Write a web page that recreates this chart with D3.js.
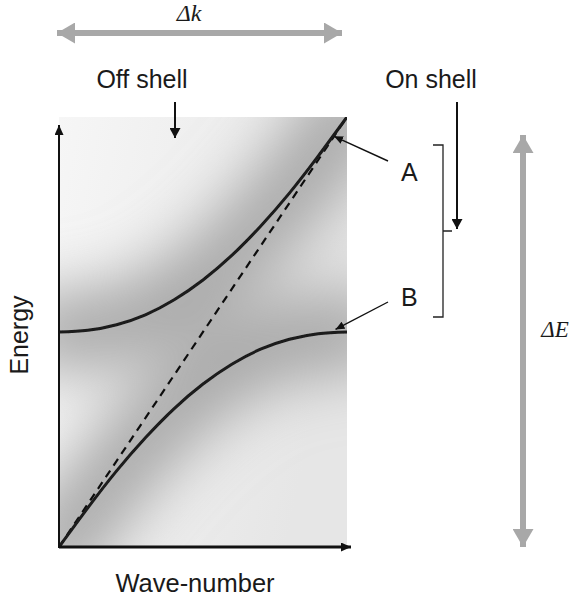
<!DOCTYPE html>
<html>
<head>
<meta charset="utf-8">
<script src="https://cdn.jsdelivr.net/npm/d3@7"></script>
<style>
  html, body { margin: 0; padding: 0; background: #fff; }
  svg { display: block; }
  text { font-family: "Liberation Sans", Arial, Helvetica, sans-serif; fill: #1a1a1a; }
  .greek { font-family: "Liberation Serif", "Times New Roman", serif; font-style: italic; }
</style>
</head>
<body>
<svg id="chart" width="577" height="599"></svg>
<script>
// Dispersion of two coupled modes (normalised wave-number / energy)
const waveNumber  = [0, 0.1, 0.2, 0.3, 0.4, 0.5, 0.6, 0.7, 0.8, 0.9, 1.0];
const lowerBranch = [0, 0.091, 0.177, 0.254, 0.322, 0.379, 0.425, 0.460, 0.483, 0.496, 0.500];
const upperBranch = [0.500, 0.504, 0.517, 0.540, 0.575, 0.621, 0.678, 0.746, 0.823, 0.909, 1.000];
// uncoupled (on-shell) line E = k
const shellK = [0, 1];
const shellE = [0, 1];

const labels = {
  xAxis: "Wave-number", yAxis: "Energy",
  off: "Off shell", on: "On shell",
  upper: "A", lower: "B",
  dk: "\u0394k", dE: "\u0394E"
};

const svg = d3.select("#chart");
const x = d3.scaleLinear().domain([0, 1]).range([59, 347]);
const y = d3.scaleLinear().domain([0, 1]).range([547, 117]);

const defs = svg.append("defs");

// arrowheads
function marker(id, color, w, h) {
  defs.append("marker")
    .attr("id", id).attr("viewBox", `0 0 ${w} ${h}`)
    .attr("refX", w).attr("refY", h / 2)
    .attr("markerWidth", w).attr("markerHeight", h)
    .attr("markerUnits", "userSpaceOnUse")
    .attr("orient", "auto-start-reverse")
    .append("path").attr("d", `M0,0L${w},${h / 2}L0,${h}Z`).attr("fill", color);
}
marker("head", "#111", 10, 11);
marker("headAxis", "#111", 10, 9);
marker("headSmall", "#111", 9, 8);
marker("headGrey", "#a8a8a8", 18, 21);

// shading behind the curves
defs.append("clipPath").attr("id", "plotClip")
  .append("rect")
  .attr("x", x(0)).attr("y", y(1))
  .attr("width", x(1) - x(0)).attr("height", y(0) - y(1));

defs.append("filter").attr("id", "soft")
  .attr("filterUnits", "userSpaceOnUse")
  .attr("x", -100).attr("y", -100).attr("width", 777).attr("height", 799)
  .append("feGaussianBlur").attr("stdDeviation", 32);

defs.append("filter").attr("id", "edge")
  .append("feGaussianBlur").attr("stdDeviation", 0.5);

const lin = defs.append("linearGradient").attr("id", "base")
  .attr("x1", 0).attr("y1", 0).attr("x2", 1).attr("y2", 0.3);
lin.append("stop").attr("offset", 0).attr("stop-color", "#f6f6f6");
lin.append("stop").attr("offset", 1).attr("stop-color", "#e6e6e6");

const line = d3.line()
  .x(d => x(d[0])).y(d => y(d[1]))
  .curve(d3.curveNatural);

const lowerPts = waveNumber.map((k, i) => [k, lowerBranch[i]]);
const upperPts = waveNumber.map((k, i) => [k, upperBranch[i]]);
const shellPts = shellK.map((k, i) => [k, shellE[i]]);

const plot = svg.append("g").attr("clip-path", "url(#plotClip)");
plot.append("rect")
  .attr("x", x(0)).attr("y", y(1))
  .attr("width", x(1) - x(0)).attr("height", y(0) - y(1))
  .attr("fill", "url(#base)");

const shade = plot.append("g").attr("filter", "url(#soft)");
[lowerPts, upperPts].forEach(pts => {
  shade.append("path")
    .attr("d", line(pts))
    .attr("fill", "none")
    .attr("stroke", "#a2a2a2")
    .attr("stroke-width", 72)
    .attr("stroke-linecap", "square");
});

// dispersion curves
const curves = plot.append("g").attr("filter", "url(#edge)");
curves.append("path").attr("d", line(shellPts))
  .attr("fill", "none").attr("stroke", "#111")
  .attr("stroke-width", 2.2).attr("stroke-dasharray", "8,6");
[lowerPts, upperPts].forEach(pts => {
  curves.append("path").attr("d", line(pts))
    .attr("fill", "none").attr("stroke", "#1a1a1a")
    .attr("stroke-width", 3);
});

// axes as plain arrows
const xAxis = d3.axisBottom(d3.scaleLinear().domain([0, 1]).range([x(0), 350]))
  .tickValues([]).tickSizeOuter(0);
const yAxis = d3.axisLeft(d3.scaleLinear().domain([0, 1]).range([y(0), 126]))
  .tickValues([]).tickSizeOuter(0);
const gx = svg.append("g").attr("transform", `translate(0,${y(0)})`).call(xAxis);
gx.select(".domain").attr("stroke", "#111").attr("stroke-width", 3)
  .attr("d", `M${x(0)},0H351`).attr("marker-end", "url(#headAxis)");
const gy = svg.append("g").attr("transform", `translate(${x(0)},0)`).call(yAxis);
gy.select(".domain").attr("stroke", "#111").attr("stroke-width", 2)
  .attr("d", `M0,${y(0) + 1}V125`).attr("marker-end", "url(#headAxis)");

// axis titles
svg.append("text").attr("x", 195).attr("y", 592)
  .attr("text-anchor", "middle").attr("font-size", 25.5).text(labels.xAxis);
svg.append("text").attr("transform", "translate(28,335) rotate(-90)")
  .attr("text-anchor", "middle").attr("font-size", 25).text(labels.yAxis);

// off / on shell pointers
svg.append("text").attr("x", 142).attr("y", 88)
  .attr("text-anchor", "middle").attr("font-size", 25).text(labels.off);
svg.append("text").attr("x", 431).attr("y", 88)
  .attr("text-anchor", "middle").attr("font-size", 25).text(labels.on);
svg.append("line").attr("x1", 175).attr("y1", 102).attr("x2", 175).attr("y2", 138)
  .attr("stroke", "#111").attr("stroke-width", 2).attr("marker-end", "url(#head)");
svg.append("line").attr("x1", 457).attr("y1", 102).attr("x2", 457).attr("y2", 229)
  .attr("stroke", "#111").attr("stroke-width", 2).attr("marker-end", "url(#head)");

// bracket grouping the two branches
svg.append("path")
  .attr("d", "M433,145H443V317H433M443,231H452")
  .attr("fill", "none").attr("stroke", "#222").attr("stroke-width", 1.3);

// branch labels
svg.append("text").attr("x", 401).attr("y", 181).attr("font-size", 25).text(labels.upper);
svg.append("text").attr("x", 401).attr("y", 306).attr("font-size", 25).text(labels.lower);
svg.append("line").attr("x1", 388).attr("y1", 161).attr("x2", x(0.955)).attr("y2", y(0.955))
  .attr("stroke", "#111").attr("stroke-width", 1.4).attr("marker-end", "url(#headSmall)");
svg.append("line").attr("x1", 388).attr("y1", 302).attr("x2", x(0.96)).attr("y2", y(0.506))
  .attr("stroke", "#111").attr("stroke-width", 1.4).attr("marker-end", "url(#headSmall)");

// range arrows
svg.append("line").attr("x1", 57).attr("y1", 33).attr("x2", 342).attr("y2", 33)
  .attr("stroke", "#a8a8a8").attr("stroke-width", 6)
  .attr("marker-start", "url(#headGrey)").attr("marker-end", "url(#headGrey)");
svg.append("text").attr("class", "greek").attr("x", 189).attr("y", 21)
  .attr("text-anchor", "middle").attr("font-size", 24).text(labels.dk);

svg.append("line").attr("x1", 523).attr("y1", 135).attr("x2", 523).attr("y2", 547)
  .attr("stroke", "#a8a8a8").attr("stroke-width", 6)
  .attr("marker-start", "url(#headGrey)").attr("marker-end", "url(#headGrey)");
svg.append("text").attr("class", "greek").attr("x", 555).attr("y", 337)
  .attr("text-anchor", "middle").attr("font-size", 23).text(labels.dE);
</script>
</body>
</html>
